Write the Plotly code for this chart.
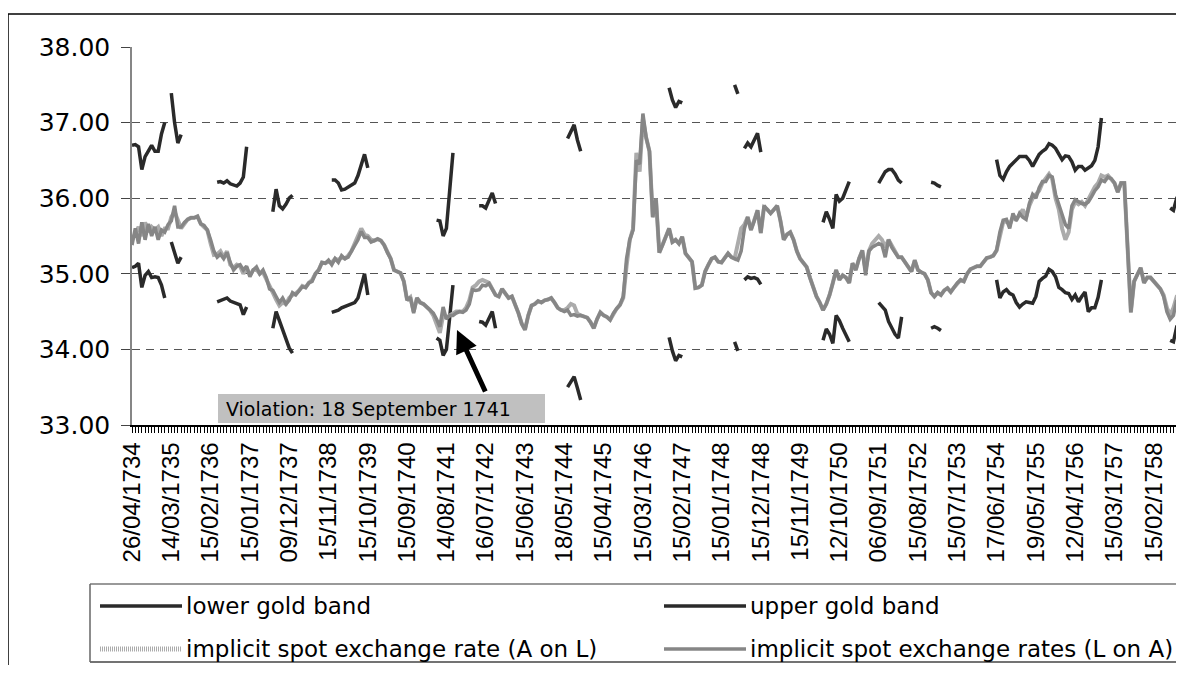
import plotly.graph_objects as go

# Dates shown on the x axis (one label every 12 observations)
tick_labels = ['26/04/1734', '14/03/1735', '15/02/1736', '15/01/1737', '09/12/1737', '15/11/1738',
               '15/10/1739', '15/09/1740', '14/08/1741', '16/07/1742', '15/06/1743', '18/05/1744',
               '15/04/1745', '15/03/1746', '15/02/1747', '15/01/1748', '15/12/1748', '15/11/1749',
               '12/10/1750', '06/09/1751', '15/08/1752', '15/07/1753', '17/06/1754', '19/05/1755',
               '12/04/1756', '15/03/1757', '15/02/1758']
label_every = 12

# implicit spot exchange rates (L on A), one row per labelled interval
l_on_a = [
    35.38, 35.6, 35.4, 35.68, 35.45, 35.66, 35.5, 35.62, 35.45, 35.58, 35.55, 35.65,
    35.7, 35.9, 35.62, 35.62, 35.68, 35.72, 35.74, 35.74, 35.76, 35.66, 35.64, 35.58,
    35.45, 35.3, 35.22, 35.26, 35.2, 35.28, 35.15, 35.05, 35.1, 35.12, 35.05, 35.1,
    34.96, 35.05, 35.09, 35.0, 35.05, 34.95, 34.8, 34.78, 34.7, 34.62, 34.68, 34.6,
    34.65, 34.75, 34.72, 34.78, 34.83, 34.82, 34.88, 34.9, 35.0, 35.05, 35.15, 35.14,
    35.18, 35.12, 35.2, 35.15, 35.24, 35.2, 35.22, 35.3, 35.38, 35.45, 35.56, 35.48,
    35.48, 35.42, 35.44, 35.46, 35.44, 35.38, 35.28, 35.2, 35.05, 35.03, 35.01, 34.9,
    34.65, 34.69, 34.48, 34.68, 34.62, 34.6, 34.56, 34.52, 34.48, 34.4, 34.3, 34.56,
    34.4, 34.45, 34.45, 34.48, 34.5, 34.49, 34.52, 34.6, 34.79, 34.78, 34.79, 34.85,
    34.84, 34.87, 34.8, 34.72, 34.7, 34.8, 34.74, 34.68, 34.7, 34.6, 34.48, 34.34,
    34.26, 34.45, 34.58, 34.6, 34.64, 34.62, 34.65, 34.66, 34.68, 34.62, 34.55, 34.52,
    34.5, 34.52, 34.45, 34.46, 34.44, 34.45, 34.43, 34.42, 34.36, 34.28, 34.4, 34.49,
    34.45, 34.43, 34.39, 34.48, 34.54, 34.59, 34.7, 35.2, 35.45, 35.58, 36.5, 36.45,
    37.12, 36.8, 36.62, 35.75, 36.0, 35.28, 35.38, 35.5, 35.6, 35.42, 35.45, 35.4,
    35.49, 35.27, 35.22, 35.16, 34.81, 34.82, 34.85, 35.03, 35.12, 35.2, 35.22, 35.16,
    35.15, 35.22, 35.27, 35.22, 35.2, 35.18, 35.3, 35.6, 35.75, 35.58, 35.7, 35.84,
    35.54, 35.9, 35.85, 35.8, 35.85, 35.9, 35.7, 35.45, 35.52, 35.55, 35.45, 35.3,
    35.2, 35.15, 35.09, 34.95, 34.82, 34.7, 34.62, 34.52, 34.6, 34.72, 34.88, 35.05,
    34.92, 34.98, 34.95, 34.88, 35.14, 35.05, 35.2, 35.31, 34.98, 35.3, 35.35, 35.38,
    35.4, 35.38, 35.22, 35.45, 35.35, 35.28, 35.22, 35.22, 35.15, 35.09, 35.03, 35.18,
    35.05, 35.02, 35.0, 34.92, 34.75, 34.7, 34.75, 34.72, 34.78, 34.81, 34.76, 34.82,
    34.88, 34.92, 34.9, 35.0, 35.06, 35.08, 35.1, 35.1, 35.16, 35.21, 35.22, 35.24,
    35.31, 35.55, 35.71, 35.72, 35.6, 35.8, 35.7, 35.8, 35.75, 35.72, 35.93, 36.05,
    36.0, 36.14, 36.22, 36.22, 36.3, 36.28, 36.05, 35.92, 35.78, 35.65, 35.6, 35.9,
    35.98, 35.95, 35.93, 35.92, 35.95, 36.02, 36.1, 36.15, 36.24, 36.22, 36.28, 36.26,
    36.2, 36.08, 36.2, 36.2, 35.35, 34.49, 34.9, 35.0, 35.08, 34.88, 34.95, 34.95,
    34.9, 34.85, 34.8, 34.7, 34.5, 34.4, 34.45, 34.65, 34.6, 34.62, 34.7,
]

# implicit spot exchange rate (A on L)
a_on_l = [
    35.45, 35.55, 35.62, 35.5, 35.68, 35.55, 35.62, 35.58, 35.62, 35.5, 35.6, 35.6,
    35.75, 35.82, 35.7, 35.6, 35.66, 35.72, 35.74, 35.74, 35.76, 35.66, 35.62, 35.58,
    35.4, 35.25, 35.26, 35.3, 35.22, 35.3, 35.12, 35.08, 35.12, 35.1, 35.0, 35.08,
    34.98, 35.05, 35.06, 35.0, 35.02, 34.92, 34.82, 34.75, 34.66, 34.58, 34.62, 34.6,
    34.68, 34.72, 34.74, 34.78, 34.84, 34.82, 34.88, 34.92, 35.0, 35.05, 35.15, 35.14,
    35.16, 35.15, 35.2, 35.18, 35.22, 35.2, 35.24, 35.3, 35.4, 35.5, 35.6, 35.52,
    35.5, 35.45, 35.44, 35.46, 35.44, 35.38, 35.28, 35.2, 35.05, 35.03, 35.01, 34.9,
    34.65, 34.69, 34.5, 34.68, 34.62, 34.6, 34.56, 34.52, 34.45, 34.35, 34.22, 34.45,
    34.42, 34.45, 34.47, 34.5, 34.5, 34.5, 34.55, 34.65, 34.82, 34.85, 34.9, 34.92,
    34.9, 34.88, 34.8, 34.72, 34.7, 34.8, 34.74, 34.68, 34.7, 34.6, 34.48, 34.34,
    34.26, 34.45, 34.58, 34.6, 34.64, 34.62, 34.65, 34.66, 34.68, 34.62, 34.55, 34.52,
    34.52, 34.55, 34.6, 34.58, 34.47, 34.45, 34.43, 34.42, 34.36, 34.28, 34.4, 34.49,
    34.45, 34.43, 34.39, 34.48, 34.54, 34.59, 34.68, 35.1, 35.45, 35.6, 36.6, 36.35,
    37.05, 36.8, 36.62, 35.75, 35.98, 35.28, 35.38, 35.5, 35.6, 35.42, 35.45, 35.4,
    35.49, 35.27, 35.22, 35.16, 34.81, 34.82, 34.85, 35.03, 35.12, 35.2, 35.22, 35.16,
    35.15, 35.22, 35.27, 35.22, 35.2, 35.4, 35.6, 35.65, 35.75, 35.58, 35.7, 35.84,
    35.54, 35.88, 35.85, 35.8, 35.85, 35.9, 35.7, 35.45, 35.52, 35.55, 35.45, 35.3,
    35.2, 35.15, 35.09, 34.95, 34.82, 34.7, 34.62, 34.52, 34.6, 34.72, 34.88, 35.05,
    34.92, 34.98, 34.95, 34.88, 35.14, 35.05, 35.2, 35.31, 35.05, 35.3, 35.4, 35.45,
    35.5, 35.45, 35.35, 35.45, 35.38, 35.3, 35.22, 35.22, 35.15, 35.09, 35.03, 35.18,
    35.05, 35.02, 35.0, 34.92, 34.75, 34.7, 34.75, 34.72, 34.78, 34.81, 34.76, 34.82,
    34.88, 34.92, 34.9, 35.0, 35.06, 35.08, 35.1, 35.1, 35.16, 35.21, 35.22, 35.24,
    35.31, 35.5, 35.68, 35.7, 35.65, 35.75, 35.72, 35.78, 35.85, 35.75, 35.9, 36.0,
    36.05, 36.1, 36.2, 36.25, 36.32, 36.25, 36.0, 35.85, 35.6, 35.45, 35.55, 35.85,
    35.95, 35.92, 35.95, 35.9, 35.98, 36.05, 36.15, 36.2, 36.3, 36.28, 36.3, 36.25,
    36.2, 36.08, 36.2, 36.2, 35.35, 34.49, 34.9, 35.0, 35.08, 34.88, 34.95, 34.95,
    34.9, 34.85, 34.8, 34.72, 34.55, 34.45, 34.55, 34.7, 34.72, 34.75, 34.75,
]

# gold bands only exist in short stretches: (first observation, values)
upper_segments = [
    (0, [36.70, 36.71, 36.68, 36.38, 36.55, 36.62, 36.70, 36.62, 36.62, 36.85, 37.0]),
    (12, [37.39, 37.0, 36.73, 36.84]),
    (26, [36.21, 36.22, 36.2, 36.23, 36.19, 36.17, 36.16, 36.2, 36.28, 36.68]),
    (43, [35.82, 36.12, 35.9, 35.86, 35.92, 36.0, 36.04]),
    (61, [36.24, 36.24, 36.2, 36.11, 36.12, 36.15, 36.17, 36.2, 36.3, 36.45, 36.58, 36.4]),
    (93, [35.71, 35.7, 35.5, 35.6, 36.1, 36.6]),
    (106, [35.9, 35.9, 35.87, 35.98, 36.07, 35.93]),
    (133, [36.79, 36.88, 36.97, 36.77, 36.62]),
    (164, [37.46, 37.3, 37.2, 37.28, 37.26]),
    (184, [37.5, 37.38]),
    (187, [36.66, 36.73, 36.68, 36.78, 36.86, 36.61]),
    (211, [35.68, 35.82, 35.72, 35.6, 36.05, 35.96, 36.0, 36.12, 36.22]),
    (228, [36.2, 36.28, 36.35, 36.38, 36.38, 36.32, 36.24, 36.2]),
    (244, [36.21, 36.2, 36.17, 36.15]),
    (264, [36.51, 36.3, 36.25, 36.35, 36.42, 36.46, 36.5, 36.55, 36.55, 36.55, 36.5, 36.42,
           36.5, 36.58, 36.62, 36.65, 36.72, 36.7, 36.66, 36.58, 36.51, 36.56, 36.55, 36.48,
           36.37, 36.42, 36.42, 36.37, 36.4, 36.43, 36.5, 36.68, 37.06]),
    (317, [35.87, 35.84, 36.0, 36.07, 36.05, 36.05]),
]
lower_segments = [
    (0, [35.08, 35.1, 35.14, 34.82, 34.98, 35.03, 34.95, 34.96, 34.95, 34.85, 34.68]),
    (12, [35.42, 35.28, 35.14, 35.22]),
    (26, [34.63, 34.65, 34.66, 34.68, 34.64, 34.62, 34.6, 34.59, 34.46, 34.56]),
    (43, [34.28, 34.5, 34.38, 34.25, 34.12, 34.02, 33.95]),
    (61, [34.49, 34.5, 34.52, 34.55, 34.57, 34.58, 34.6, 34.62, 34.68, 34.85, 35.0, 34.72]),
    (93, [34.15, 34.12, 33.92, 34.0, 34.42, 34.85]),
    (106, [34.37, 34.36, 34.32, 34.42, 34.5, 34.28]),
    (133, [33.5, 33.57, 33.64, 33.49, 33.33]),
    (164, [34.16, 33.98, 33.85, 33.92, 33.9]),
    (184, [34.1, 33.98]),
    (187, [34.92, 34.96, 34.94, 34.95, 34.93, 34.86]),
    (211, [34.12, 34.27, 34.2, 34.08, 34.45, 34.38, 34.28, 34.18, 34.1]),
    (228, [34.62, 34.57, 34.52, 34.37, 34.28, 34.2, 34.15, 34.43]),
    (244, [34.28, 34.3, 34.28, 34.25]),
    (264, [34.92, 34.68, 34.76, 34.79, 34.74, 34.72, 34.62, 34.56, 34.6, 34.63, 34.62, 34.61,
           34.7, 34.9, 34.94, 34.97, 35.06, 35.03, 34.96, 34.82, 34.79, 34.75, 34.74, 34.66,
           34.72, 34.63, 34.7, 34.76, 34.5, 34.55, 34.55, 34.69, 34.92]),
    (317, [34.12, 34.1, 34.3, 34.32, 34.15, 33.9]),
]

n_obs = len(l_on_a)
obs = list(range(n_obs))


def band(segments):
    # gaps stay empty so the line breaks
    s = [None] * n_obs
    for start, vals in segments:
        s[start:start + len(vals)] = vals
    return s


lower_band = band(lower_segments)
upper_band = band(upper_segments)

# The page has an 8px body margin on every side; the figure is sized to fit
# inside it so nothing overflows. Positions below are window pixels.
OFF = 8
W, H = 1184 - 2 * OFF, 673 - 2 * OFF
PL, PT, PB = 132, 47, 425
RIGHT = OFF + W  # right edge of the plot, in window pixels


def px(x):
    return (x - PL) / (RIGHT - PL)


def py(y):
    return (PB - y) / (PB - PT)


def hline(x0, x1, y, color, width):
    return dict(type='line', xref='paper', yref='paper', x0=px(x0), x1=px(x1), y0=py(y), y1=py(y),
                line=dict(color=color, width=width))


def vline(x, y0, y1, color, width):
    return dict(type='line', xref='paper', yref='paper', x0=px(x), x1=px(x), y0=py(y0), y1=py(y1),
                line=dict(color=color, width=width))


DARK = '#2a2a2a'
MID = '#868686'
LIGHT = '#ababab'
TXT = 'DejaVu Sans'

fig = go.Figure()
fig.add_trace(go.Scatter(x=obs, y=lower_band, mode='lines', name='lower gold band',
                         line=dict(color=DARK, width=3.5), connectgaps=False))
fig.add_trace(go.Scatter(x=obs, y=upper_band, mode='lines', name='upper gold band',
                         line=dict(color=DARK, width=3.5), connectgaps=False))
fig.add_trace(go.Scatter(x=obs, y=a_on_l, mode='lines', name='implicit spot exchange rate (A on L)',
                         line=dict(color=LIGHT, width=4)))
fig.add_trace(go.Scatter(x=obs, y=l_on_a, mode='lines', name='implicit spot exchange rates (L on A)',
                         line=dict(color=MID, width=3.5)))

shapes = [
    # chart frame (only top and left edges are in view)
    hline(8, RIGHT + 20, 14, 'black', 1.5),
    vline(8, 14, 700, 'black', 1.5),
    # legend box
    hline(90, RIGHT + 20, 584, '#777777', 1.5),
    hline(90, RIGHT + 20, 662, '#444444', 1.5),
    vline(90, 584, 662, '#666666', 1.5),
    # violation label box
    dict(type='rect', xref='paper', yref='paper', x0=px(218), x1=px(545), y0=py(423), y1=py(394),
         fillcolor='#c0c0c0', line=dict(width=0)),
]

# hand made legend
legend_items = [
    ('lower gold band', 100, 606, DARK, None),
    ('upper gold band', 664, 606, DARK, None),
    ('implicit spot exchange rate (A on L)', 100, 649, LIGHT, '1px,1px'),
    ('implicit spot exchange rates (L on A)', 664, 649, MID, None),
]
annotations = []
for name, x0, y0, col, dash in legend_items:
    shapes.append(dict(type='line', xref='paper', yref='paper', x0=px(x0), x1=px(x0 + 82),
                       y0=py(y0), y1=py(y0),
                       line=dict(color=col, width=5 if dash else 3.5, dash=dash or 'solid')))
    annotations.append(dict(x=px(x0 + 84), y=py(y0), xref='paper', yref='paper', text=name,
                            showarrow=False, xanchor='left', yanchor='middle',
                            font=dict(family=TXT, size=23, color='black')))

annotations.append(dict(x=px(224), y=py(409), xref='paper', yref='paper',
                        text='Violation: 18 September 1741', showarrow=False,
                        xanchor='left', yanchor='middle', font=dict(family=TXT, size=19, color='black')))
annotations.append(dict(x=px(457), y=py(330), xref='paper', yref='paper', text='',
                        showarrow=True, ax=29, ay=63, arrowhead=2, arrowsize=0.9,
                        arrowwidth=5, arrowcolor='black', standoff=0))

fig.update_layout(
    width=W, height=H,
    margin=dict(l=PL - OFF, r=0, t=PT - OFF, b=H - (PB - OFF)),
    paper_bgcolor='white', plot_bgcolor='white',
    showlegend=False,
    shapes=shapes, annotations=annotations,
    xaxis=dict(range=[0, (RIGHT - PL) / 3.275],
               tickmode='array',
               tickvals=[i * label_every for i in range(len(tick_labels))],
               ticktext=tick_labels, tickangle=-90,
               tickfont=dict(family='Liberation Sans, Arial', size=24, color='black'),
               ticks='outside', ticklen=6, tickcolor='black', ticklabelstandoff=0,
               minor=dict(dtick=1, tick0=0, ticks='outside', ticklen=6, tickcolor='black', showgrid=False),
               showline=True, linecolor='black', linewidth=1.5,
               showgrid=False, zeroline=False),
    yaxis=dict(range=[33, 38], tick0=33, dtick=1, tickformat='.2f',
               tickfont=dict(family=TXT, size=25, color='black'),
               ticks='outside', ticklen=9, tickcolor='#444444', ticklabelstandoff=6,
               showline=True, linecolor='#868686', linewidth=1.5,
               showgrid=True, gridcolor='#555555', griddash='8px,6px', gridwidth=1,
               zeroline=False),
)

fig.write_html('out.html')
